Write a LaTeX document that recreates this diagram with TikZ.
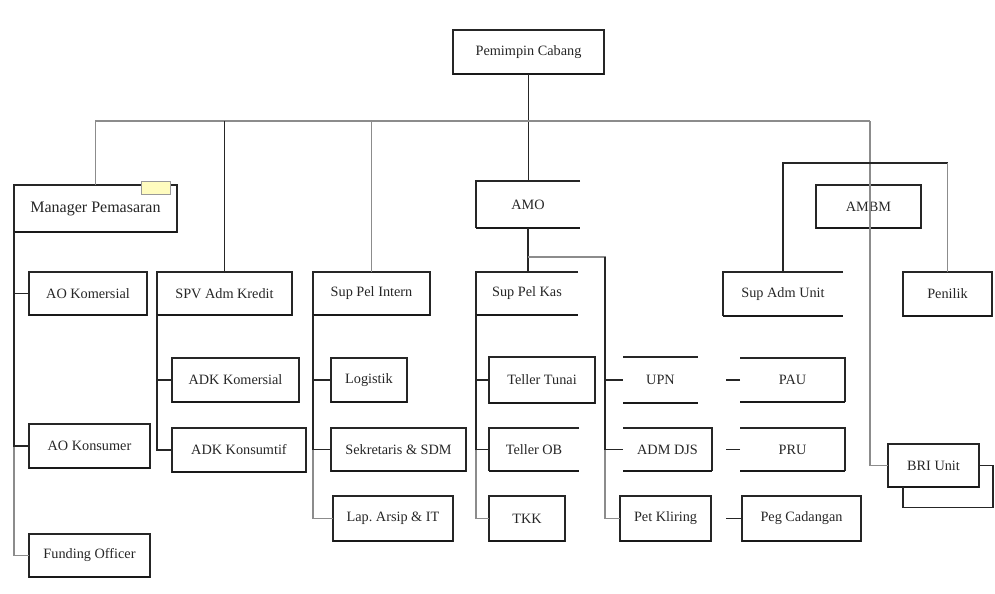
\documentclass[tikz,border=0pt]{standalone}
\usepackage{fontspec}
\setmainfont{Liberation Serif}
\usetikzlibrary{calc}
\tikzset{
  box/.style={inner sep=0pt, outer sep=0pt, text=black!85, font=\fontsize{10.7}{12}\selectfont},
  bigbox/.style={box, font=\fontsize{12}{14}\selectfont},
  bline/.style={draw=black!85, line width=0.8pt},
  botline/.style={draw=black!90, line width=1.5pt},
  bl/.style={draw=black!85, line width=0.9pt},
  gl/.style={draw=black!45, line width=0.9pt},
}
\newcommand\orgbox[7]{\node[#1, minimum width={(#4-#2)*0.75pt}, minimum height={(#5-#3)*0.75pt}] (#6) at ({(#2+#4)/2},{(#3+#5)/2}) {#7};}
\newcommand\boxFull[1]{\draw[bline] (#1.south west) rectangle (#1.north east); \draw[botline] (#1.south west) -- (#1.south east);}
\newcommand\boxOR[1]{\draw[bline] (#1.north east) -- (#1.north west) -- (#1.south west); \draw[botline] (#1.south west) -- (#1.south east);}
\newcommand\boxOL[1]{\draw[bline] (#1.north west) -- (#1.north east) -- (#1.south east); \draw[botline] (#1.south west) -- (#1.south east);}
\newcommand\boxOLR[1]{\draw[bline] (#1.north west) -- (#1.north east); \draw[botline] (#1.south west) -- (#1.south east);}
\begin{document}
\begin{tikzpicture}[x=0.75pt,y=-0.75pt]
\useasboundingbox (0,0) rectangle (995,593);
% boxes
\orgbox{box}{453}{30}{604}{74}{pc}{Pemimpin Cabang}
\orgbox{bigbox}{14}{185}{177}{232}{mp}{Manager Pemasaran}
\orgbox{box}{476}{181}{580}{228}{amo}{AMO}
\orgbox{box}{816}{185}{921}{228}{ambm}{AMBM}
\orgbox{box}{29}{272}{147}{315}{aok}{AO Komersial}
\orgbox{box}{157}{272}{292}{315}{spv}{SPV Adm Kredit}
\orgbox{box}{313}{272}{430}{315}{spi}{Sup Pel Intern}
\orgbox{box}{476}{272}{578}{315}{spk}{Sup Pel Kas}
\orgbox{box}{723}{272}{843}{316}{sau}{Sup Adm Unit}
\orgbox{box}{903}{272}{992}{316}{pen}{Penilik}
\orgbox{box}{172}{358}{299}{402}{adka}{ADK Komersial}
\orgbox{box}{172}{428}{306}{472}{adkb}{ADK Konsumtif}
\orgbox{box}{29}{424}{150}{468}{aoc}{AO Konsumer}
\orgbox{box}{29}{534}{150}{577}{fo}{Funding Officer}
\orgbox{box}{331}{358}{407}{402}{log}{Logistik}
\orgbox{box}{331}{428}{466}{471}{sek}{Sekretaris \& SDM}
\orgbox{box}{333}{496}{453}{541}{lap}{Lap.\ Arsip \& IT}
\orgbox{box}{489}{357}{595}{403}{tt}{Teller Tunai}
\orgbox{box}{489}{428}{579}{471}{tob}{Teller OB}
\orgbox{box}{489}{496}{565}{541}{tkk}{TKK}
\orgbox{box}{623}{357}{698}{403}{upn}{UPN}
\orgbox{box}{623}{428}{712}{471}{adm}{ADM DJS}
\orgbox{box}{620}{496}{711}{541}{pk}{Pet Kliring}
\orgbox{box}{740}{358}{845}{402}{pau}{PAU}
\orgbox{box}{740}{428}{845}{471}{pru}{PRU}
\orgbox{box}{742}{496}{861}{541}{peg}{Peg Cadangan}
\orgbox{box}{888}{444}{979}{487}{bri}{BRI Unit}
% box outlines
\foreach \n in {pc,mp,ambm,aok,spv,spi,pen,adka,adkb,aoc,fo,log,sek,lap,tt,tkk,pk,peg,bri} {\boxFull{\n}}
\foreach \n in {amo,spk,sau,tob} {\boxOR{\n}}
\foreach \n in {adm,pau,pru} {\boxOL{\n}}
\boxOLR{upn}
% small sign mark
\node[fill=yellow!25, draw=black!40, line width=0.4pt, minimum width=22pt, minimum height=10pt, inner sep=0pt] (sign) at (156,188) {};
% top bus
\coordinate (busR) at (870,121);
\draw[bl] (pc.south) -- (pc.south |- amo.north);
\draw[gl] (mp.north) |- (busR);
\draw[gl] (busR) |- (bri.west);
\draw[bl] (spv.north) -- (spv.north |- busR);
\draw[gl] (spi.north) -- (spi.north |- busR);
% Manager Pemasaran
\draw[gl, line width=1.3pt] (mp.south west) |- (fo.west);
\draw[bl] (mp.south west) |- (aok.west);
\draw[bl] (mp.south west) |- (aoc.west);
% SPV
\draw[bl] (spv.south west) |- (adkb.west);
\draw[bl] (spv.south west) |- (adka.west);
% Sup Pel Intern
\draw[gl] (spi.south west) |- (lap.west);
\draw[bl] (spi.south west) |- (log.west);
\draw[bl] (spi.south west) |- (sek.west);
% AMO
\draw[bl] (amo.south) -- (amo.south |- spk.north);
\path (amo.south) ++(0,29) coordinate (kj);
\draw[gl] (kj) -- ++(77,0) coordinate (kx) |- (pk.west);
\draw[bl] (kx) |- (upn.west);
\draw[bl] (kx) |- (adm.west);
% Sup Pel Kas
\draw[gl] (spk.south west) |- (tkk.west);
\draw[bl] (spk.south west) |- (tt.west);
\draw[bl] (spk.south west) |- (tob.west);
% dashes
\draw[bl] (pau.west) -- ++(-14,0);
\draw[bl] (pru.west) -- ++(-14,0);
\draw[bl] (peg.west) -- ++(-16,0);
% AMBM bracket
\coordinate (ambar) at (0,163);
\draw[bl] (sau.north) |- (ambar -| pen.north);
\draw[gl] (ambar -| pen.north) -- (pen.north);
% BRI unit loop
\draw[bl] (bri.east) -| ++(14,42) -| ($(bri.south west)+(15,0)$);
\end{tikzpicture}
\end{document}
